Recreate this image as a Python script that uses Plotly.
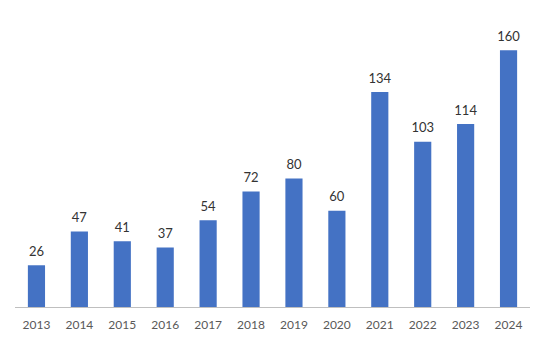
import plotly.graph_objects as go

years = ["2013", "2014", "2015", "2016", "2017", "2018", "2019", "2020", "2021", "2022", "2023", "2024"]
values = [26, 47, 41, 37, 54, 72, 80, 60, 134, 103, 114, 160]

fig = go.Figure()
fig.add_trace(go.Bar(
    x=years, y=values,
    marker=dict(color="#4472C4", line=dict(width=0)),
    width=0.4, hoverinfo="skip",
))
fig.add_trace(go.Scatter(
    x=years, y=values, mode="markers+text",
    marker=dict(size=8, color="rgba(0,0,0,0)"),
    text=[str(v) for v in values],
    textposition="top center",
    textfont=dict(family="Lato", size=13, color="#333333"),
    cliponaxis=False,
))
fig.update_layout(
    width=545, height=360,
    margin=dict(l=7, r=23, t=2, b=61),
    paper_bgcolor="white", plot_bgcolor="white",
    showlegend=False,
    font=dict(family="Lato", size=12, color="#595959"),
)
fig.update_xaxes(
    type="category", range=[-0.5, 11.5],
    showline=True, linecolor="#BFBFBF", linewidth=1,
    ticks="outside", ticklen=7, tickcolor="rgba(0,0,0,0)",
    tickfont=dict(family="Lato", size=12, color="#595959"),
    showgrid=False, automargin=False,
)
fig.update_yaxes(range=[0, 185], visible=False, showgrid=False)
fig.write_html("out.html")
